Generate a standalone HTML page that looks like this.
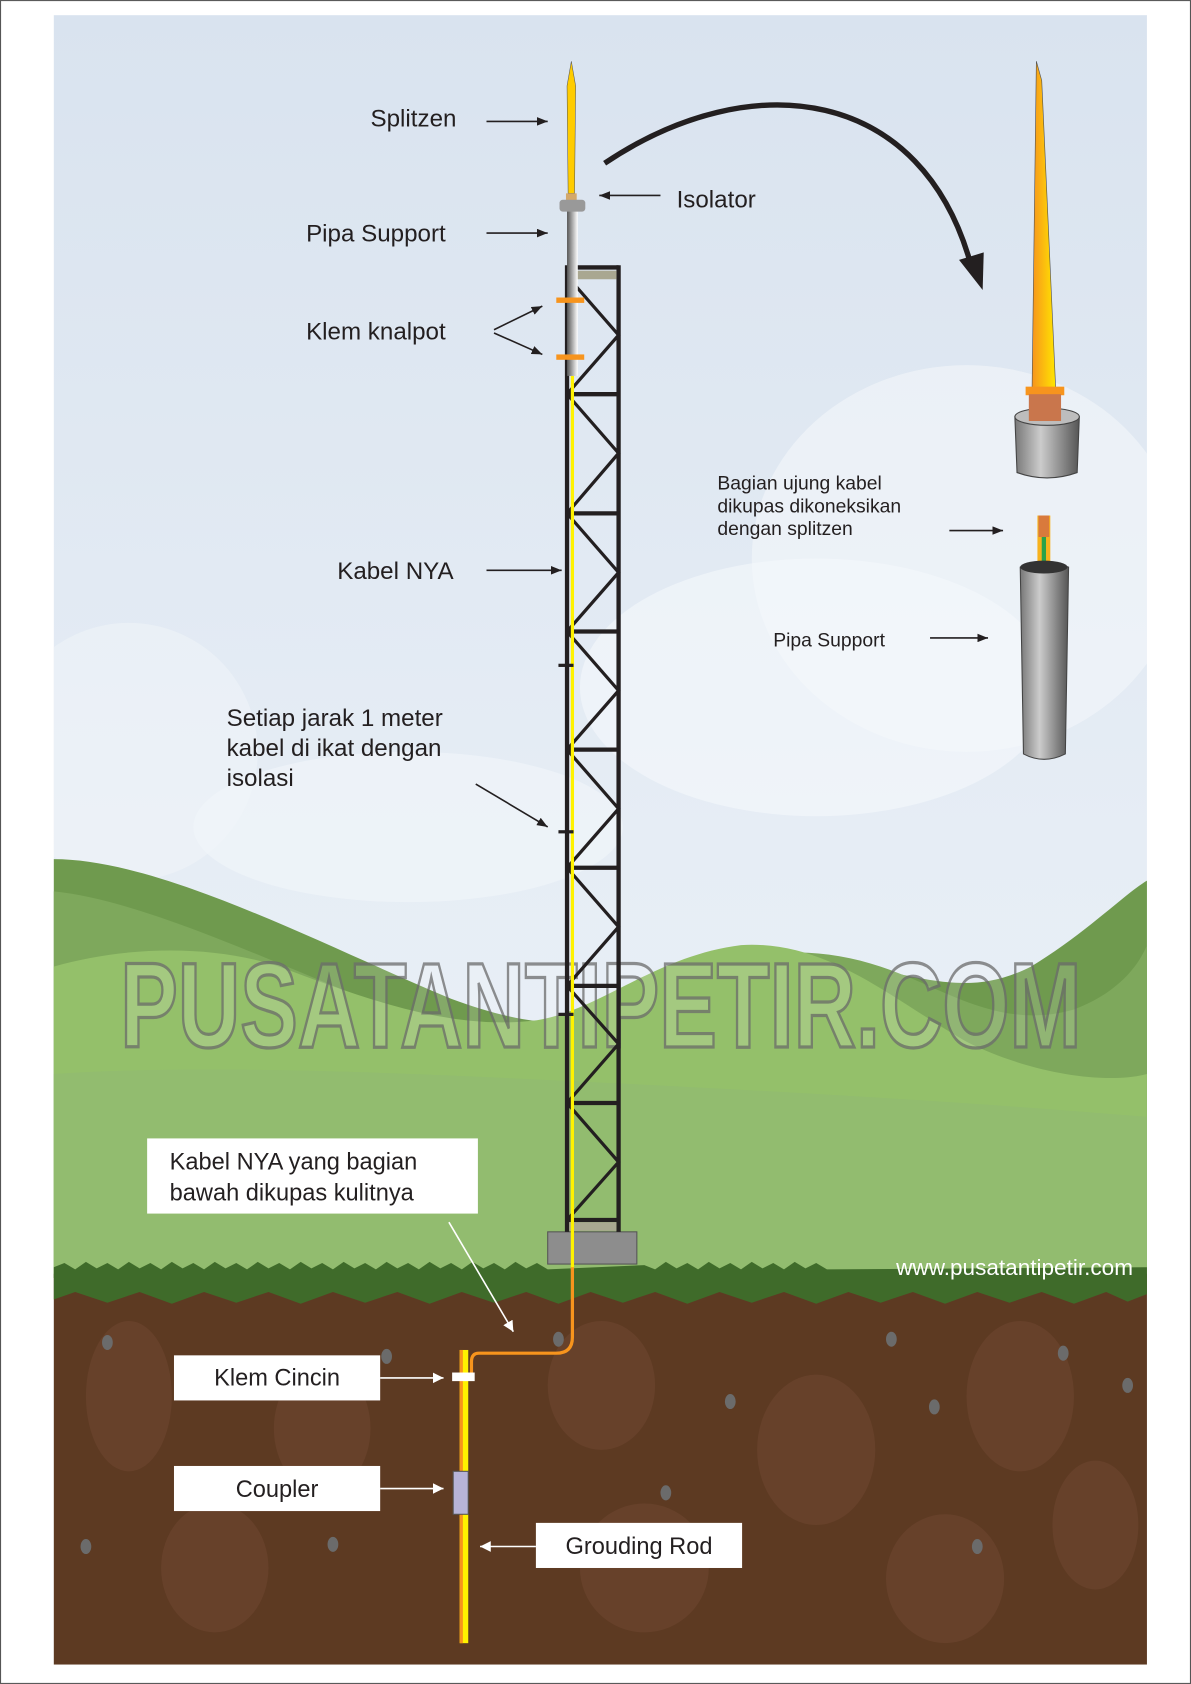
<!DOCTYPE html>
<html><head><meta charset="utf-8"><style>
html,body{margin:0;padding:0;background:#fff}
svg{display:block}
</style></head><body>
<svg width="1191" height="1684" viewBox="0 0 1109 1568" xmlns="http://www.w3.org/2000/svg" font-family="'Liberation Sans', sans-serif">
<defs>
<linearGradient id="sky" x1="0" y1="0" x2="0" y2="1">
<stop offset="0" stop-color="#d9e3ef"/><stop offset="0.5" stop-color="#e6edf5"/><stop offset="1" stop-color="#eef3f8"/>
</linearGradient>
<linearGradient id="pole" x1="0" y1="0" x2="1" y2="0">
<stop offset="0" stop-color="#555"/><stop offset="0.6" stop-color="#bbb"/><stop offset="1" stop-color="#fff"/>
</linearGradient>
<linearGradient id="spike" x1="0" y1="0" x2="1" y2="0">
<stop offset="0" stop-color="#f7941d"/><stop offset="1" stop-color="#ffe600"/>
</linearGradient>
<linearGradient id="cyl" x1="0" y1="0" x2="1" y2="0">
<stop offset="0" stop-color="#777"/><stop offset="0.4" stop-color="#ccc"/><stop offset="1" stop-color="#555"/>
</linearGradient>
<clipPath id="frame"><rect x="50" y="14" width="1018" height="1536"/></clipPath>
<marker id="ah" markerWidth="10" markerHeight="8" refX="10" refY="4" orient="auto" markerUnits="userSpaceOnUse"><path d="M0,0 L10,4 L0,8 Z" fill="#231f20"/></marker>
<marker id="ahw" markerWidth="10" markerHeight="10" refX="10" refY="5" orient="auto" markerUnits="userSpaceOnUse"><path d="M0,0 L10,5 L0,10 Z" fill="#fff"/></marker>
</defs>
<rect x="0" y="0" width="1109" height="1568" fill="#fff"/>
<rect x="0.5" y="0.5" width="1108" height="1567" fill="none" stroke="#555" stroke-width="1"/>
<g clip-path="url(#frame)">
<rect x="50" y="14" width="1018" height="1536" fill="url(#sky)"/>
<ellipse cx="900" cy="520" rx="200" ry="180" fill="#f3f6fa" opacity="0.6"/>
<ellipse cx="760" cy="640" rx="220" ry="120" fill="#f5f8fb" opacity="0.6"/>
<ellipse cx="120" cy="700" rx="120" ry="120" fill="#f2f5f9" opacity="0.5"/>
<ellipse cx="380" cy="770" rx="200" ry="70" fill="#f2f6fa" opacity="0.6"/>
<path d="M50,800 C150,800 300,880 420,930 C500,960 560,960 600,930 C650,890 700,880 760,890 C860,910 900,930 960,900 C1010,870 1050,830 1068,820 L1068,1190 L50,1190 Z" fill="#6f9a4e"/>
<path d="M50,830 C150,840 300,920 420,960 C520,990 600,960 640,920 C690,880 760,880 820,900 C880,920 930,960 1000,940 C1040,925 1060,900 1068,880 L1068,1190 L50,1190 Z" fill="#7ea85c"/>
<path d="M50,900 C120,880 200,880 260,900 C340,930 420,960 500,950 C560,940 610,890 690,880 C770,875 830,930 900,970 C960,1000 1030,1010 1068,1000 L1068,1190 L50,1190 Z" fill="#94c06a"/>
<path d="M50,1000 C200,990 400,1000 600,1010 C800,1020 950,1030 1068,1040 L1068,1190 L50,1190 Z" fill="#92bb72" opacity="0.7"/>
<text x="112" y="975" font-size="112" font-weight="bold" textLength="895" lengthAdjust="spacingAndGlyphs" fill="rgba(255,255,255,0.2)" stroke="#6c6c6c" stroke-width="3" opacity="0.75">PUSATANTIPETIR.COM</text>
<rect x="50" y="1186" width="1018" height="364" fill="#5d3a22"/>
<path d="M50,1180 L60,1176 L70,1182 L80,1175 L90,1181 L100,1176 L110,1182 L120,1175 L130,1181 L140,1176 L150,1182 L160,1175 L170,1181 L180,1176 L190,1182 L200,1175 L210,1181 L220,1176 L230,1182 L240,1175 L250,1181 L260,1176 L270,1182 L280,1175 L290,1181 L300,1176 L310,1182 L320,1175 L330,1181 L340,1176 L350,1182 L360,1175 L370,1181 L380,1176 L390,1182 L400,1175 L410,1181 L420,1176 L430,1182 L440,1175 L450,1181 L460,1176 L470,1182 L480,1175 L490,1181 L500,1176 L510,1182 L600,1178 L610,1182 L620,1175 L630,1181 L640,1176 L650,1182 L660,1175 L670,1181 L680,1176 L690,1182 L700,1175 L710,1181 L720,1176 L730,1182 L740,1175 L750,1181 L760,1176 L770,1182 L1068,1180 L1068,1205 L1050,1212 L1030,1203 L1000,1214 L970,1203 L940,1213 L910,1203 L880,1214 L850,1203 L820,1213 L790,1203 L760,1214 L730,1203 L700,1213 L670,1203 L640,1214 L610,1203 L580,1213 L550,1203 L520,1214 L490,1203 L460,1213 L430,1203 L400,1214 L370,1203 L340,1213 L310,1203 L280,1214 L250,1203 L220,1213 L190,1203 L160,1214 L130,1203 L100,1213 L70,1203 L50,1210 Z" fill="#3f6b2a"/>
<g fill="#6e4630" opacity="0.6">
<ellipse cx="120" cy="1300" rx="40" ry="70"/><ellipse cx="300" cy="1330" rx="45" ry="60"/><ellipse cx="560" cy="1290" rx="50" ry="60"/>
<ellipse cx="760" cy="1350" rx="55" ry="70"/><ellipse cx="950" cy="1300" rx="50" ry="70"/><ellipse cx="200" cy="1460" rx="50" ry="60"/>
<ellipse cx="600" cy="1460" rx="60" ry="60"/><ellipse cx="880" cy="1470" rx="55" ry="60"/><ellipse cx="1020" cy="1420" rx="40" ry="60"/>
</g>
<g fill="#6b6b6b">
<ellipse cx="100" cy="1250" rx="5" ry="7"/><ellipse cx="360" cy="1263" rx="5" ry="7"/><ellipse cx="520" cy="1247" rx="5" ry="7"/>
<ellipse cx="680" cy="1305" rx="5" ry="7"/><ellipse cx="870" cy="1310" rx="5" ry="7"/><ellipse cx="1050" cy="1290" rx="5" ry="7"/>
<ellipse cx="830" cy="1247" rx="5" ry="7"/><ellipse cx="990" cy="1260" rx="5" ry="7"/><ellipse cx="80" cy="1440" rx="5" ry="7"/>
<ellipse cx="310" cy="1438" rx="5" ry="7"/><ellipse cx="620" cy="1390" rx="5" ry="7"/><ellipse cx="910" cy="1440" rx="5" ry="7"/>
</g>
</g>
<rect x="510" y="1147" width="83" height="30" fill="#8d8d8d" stroke="#555"/>
<g stroke="#231f20" stroke-width="4" fill="none">
<line x1="528" y1="247" x2="528" y2="1147"/><line x1="576" y1="247" x2="576" y2="1147"/>
<line x1="528" y1="249" x2="576" y2="249"/>
<line x1="528" y1="367" x2="576" y2="367"/><line x1="528" y1="478" x2="576" y2="478"/><line x1="528" y1="588" x2="576" y2="588"/>
<line x1="528" y1="698" x2="576" y2="698"/><line x1="528" y1="808" x2="576" y2="808"/><line x1="528" y1="918" x2="576" y2="918"/>
<line x1="528" y1="1027" x2="576" y2="1027"/><line x1="528" y1="1136" x2="576" y2="1136"/>
<polyline stroke-width="3" points="528,257 576,312 528,367 576,422 528,478 576,533 528,588 576,643 528,698 576,753 528,808 576,863 528,918 576,972 528,1027 576,1082 528,1136"/>
</g>
<rect x="530" y="252" width="44" height="8" fill="#a9a791"/>
<rect x="530" y="1138" width="44" height="8" fill="#a9a791"/>
<line x1="533" y1="350" x2="533" y2="1182" stroke="#fff200" stroke-width="3"/>
<path d="M533,1180 L533,1245 Q533,1260 518,1260 L446,1260 Q439,1260 439,1268 L439,1282" stroke="#f7941d" stroke-width="3" fill="none"/>
<g fill="#231f20"><rect x="520" y="618" width="14" height="3"/><rect x="520" y="773" width="14" height="3"/><rect x="520" y="943" width="14" height="3"/></g>
<rect x="528" y="193" width="10" height="157" fill="url(#pole)"/>
<path d="M532,57 L536,80 L535,180 L529,180 L528,80 Z" fill="#ffcc00" stroke="#555" stroke-width="0.5"/>
<rect x="527" y="180" width="10" height="7" fill="#d4a86a"/>
<rect x="521" y="186" width="24" height="11" rx="3" fill="#999"/>
<rect x="518" y="277" width="26" height="5" fill="#f7941d"/>
<rect x="518" y="330" width="26" height="5" fill="#f7941d"/>
<path d="M563,152 C700,60 860,80 905,250" stroke="#231f20" stroke-width="5" fill="none"/>
<path d="M893,242 L916,235 L915,270 Z" fill="#231f20"/>
<path d="M965,57 L970,75 L983,362 L961,362 Z" fill="url(#spike)" stroke="#555" stroke-width="0.6"/>
<path d="M945,388 Q975,378 1005,388 L1003,440 Q975,450 947,440 Z" fill="url(#cyl)" stroke="#444"/>
<ellipse cx="975" cy="388" rx="30" ry="8" fill="#bdbdbd" stroke="#444"/>
<rect x="955" y="360" width="36" height="8" fill="#f7941d"/>
<rect x="958" y="367" width="30" height="25" fill="#c9764c"/>
<rect x="966" y="480" width="12" height="75" fill="#f7b21d"/>
<rect x="970" y="500" width="4" height="55" fill="#2aa24a"/>
<rect x="967" y="480" width="10" height="20" fill="#d97a3c"/>
<path d="M950,528 Q972,520 995,528 L992,702 Q972,712 953,702 Z" fill="url(#cyl)" stroke="#444"/>
<ellipse cx="972" cy="528" rx="22" ry="6" fill="#333"/>
<g font-size="22.5" fill="#231f20">
<text x="345" y="118">Splitzen</text>
<text x="630" y="193">Isolator</text>
<text x="285" y="225">Pipa Support</text>
<text x="285" y="316">Klem knalpot</text>
<text x="314" y="539">Kabel NYA</text>
<text x="211" y="676">Setiap jarak 1 meter</text>
<text x="211" y="704">kabel di ikat dengan</text>
<text x="211" y="732">isolasi</text>
</g>
<g font-size="18" fill="#231f20">
<text x="668" y="456">Bagian ujung kabel</text>
<text x="668" y="477">dikupas dikoneksikan</text>
<text x="668" y="498">dengan splitzen</text>
<text x="720" y="602">Pipa Support</text>
</g>
<g stroke="#231f20" stroke-width="1.5" marker-end="url(#ah)">
<line x1="453" y1="113" x2="510" y2="113"/>
<line x1="615" y1="182" x2="558" y2="182"/>
<line x1="453" y1="217" x2="510" y2="217"/>
<line x1="460" y1="307" x2="505" y2="285"/>
<line x1="460" y1="310" x2="505" y2="330"/>
<line x1="453" y1="531" x2="523" y2="531"/>
<line x1="443" y1="730" x2="510" y2="770"/>
<line x1="884" y1="494" x2="934" y2="494"/>
<line x1="866" y1="594" x2="920" y2="594"/>
</g>
<g fill="#fff">
<rect x="137" y="1060" width="308" height="70"/>
<rect x="162" y="1262" width="192" height="42"/>
<rect x="162" y="1365" width="192" height="42"/>
<rect x="499" y="1418" width="192" height="42"/>
</g>
<g font-size="22" fill="#231f20">
<text x="158" y="1089">Kabel NYA yang bagian</text>
<text x="158" y="1118">bawah dikupas kulitnya</text>
<text x="258" y="1290" text-anchor="middle">Klem Cincin</text>
<text x="258" y="1394" text-anchor="middle">Coupler</text>
<text x="595" y="1447" text-anchor="middle">Grouding Rod</text>
</g>
<text x="1055" y="1187" font-size="21" fill="#fff" text-anchor="end">www.pusatantipetir.com</text>
<g stroke="#fff" stroke-width="1.5" marker-end="url(#ahw)">
<line x1="418" y1="1138" x2="478" y2="1240"/>
<line x1="354" y1="1283" x2="413" y2="1283"/>
<line x1="354" y1="1386" x2="413" y2="1386"/>
<line x1="499" y1="1440" x2="447" y2="1440"/>
</g>
<rect x="428" y="1257" width="8" height="273" fill="#fff200"/>
<rect x="428" y="1257" width="3" height="273" fill="#f7941d"/>
<rect x="421" y="1278" width="21" height="8" fill="#fff"/>
<rect x="422" y="1370" width="14" height="40" fill="#b7b4d8" stroke="#555"/>
</svg>
</body></html>
